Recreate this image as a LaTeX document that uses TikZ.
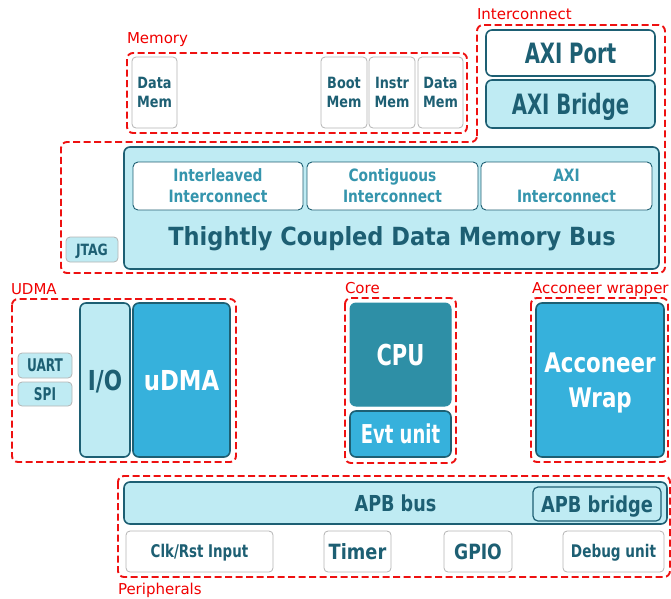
\documentclass[tikz,border=0pt]{standalone}
\usepackage{fontspec}
\usepackage{graphicx}
\setmainfont{DejaVu Sans}
\newfontfamily\cf{DejaVu Sans Condensed Bold}
\definecolor{dteal}{HTML}{1D5F73}
\definecolor{lcyan}{HTML}{BFEBF3}
\definecolor{mblue}{HTML}{36B1DC}
\definecolor{cpuc}{HTML}{2E8FA6}
\definecolor{icol}{HTML}{3595AD}
\definecolor{gborder}{HTML}{B4B4B4}
\definecolor{rline}{HTML}{EE1111}
\definecolor{rtext}{HTML}{F00000}
\newcommand\sx[2]{\scalebox{#1}[1]{#2}}
\newcommand\two[2]{\begin{tabular}[b]{@{}c@{}}#1\\#2\end{tabular}}
\newcommand\bx[7]{\node[#1, minimum width={(#4-#2)*1pt}, minimum height={(#5-#3)*1pt}] (#6) at ({(#2+#4)/2},{(#3+#5)/2}) {#7};}
\tikzset{
  every node/.style={inner sep=0pt, outer sep=0pt},
  f/.style n args={3}{font={\cf\fontsize{#1}{#2}\selectfont}, text height={#3*1pt}, text depth=0pt},
  gbox/.style={draw=gborder, fill=white, rounded corners=4pt, line width=0.8pt, text=dteal},
  gcbox/.style={draw=gborder, fill=lcyan, rounded corners=4pt, line width=0.8pt, text=dteal},
  ibox/.style={draw=dteal, fill=white, rounded corners=5pt, line width=0.9pt, text=icol},
  lbox/.style={draw=dteal, fill=lcyan, rounded corners=6pt, line width=1.6pt, text=dteal},
  wbox/.style={draw=dteal, fill=white, rounded corners=6pt, line width=1.6pt, text=dteal},
  mbox/.style={draw=dteal, fill=mblue, rounded corners=6pt, line width=1.6pt, text=white},
  cbox/.style={draw=cpuc, fill=cpuc, rounded corners=6pt, line width=1pt, text=white},
  reg/.style={draw=rline, line width=1.9pt, dash pattern=on 7pt off 3.5pt, rounded corners=6pt},
  lab/.style={text=rtext, anchor=base west, font=\fontsize{15}{18}\selectfont},
}
\begin{document}
\begin{tikzpicture}[x=1pt,y=-1pt]
\useasboundingbox (0,0) rectangle (671,598);
% group outlines
\draw[reg] (127,53) rectangle (467,133);
\draw[reg] (477,142) -- (477,25) -- (665,25) -- (665,273) -- (61,273) -- (61,142) -- cycle;
\draw[reg] (12,299) rectangle (236,462);
\draw[reg] (345,298) rectangle (456,463);
\draw[reg] (531,298) rectangle (668,462);
\draw[reg] (118,476) rectangle (670,577);
% group labels
\node[lab] (lmem) at (127,43) {Memory};
\node[lab] (lic) at (477,19.5) {Interconnect};
\node[lab] (ludma) at (11,294) {UDMA};
\node[lab] (lcore) at (345,293) {Core};
\node[lab] (lacc) at (532,293) {Acconeer wrapper};
\node[lab] (lper) at (118,594) {Peripherals};
% memory
\bx{gbox, f={15.5}{19}{30.3}}{132}{57}{177}{128}{dmem1}{\sx{0.92}{\two{Data}{Mem}}}
\bx{gbox, f={15.5}{19}{30.3}}{321}{57}{367}{128}{bmem}{\sx{0.92}{\two{Boot}{Mem}}}
\bx{gbox, f={15.5}{19}{30.3}}{369}{57}{415}{128}{imem}{\sx{0.92}{\two{Instr}{Mem}}}
\bx{gbox, f={15.5}{19}{30.3}}{418}{57}{463}{128}{dmem2}{\sx{0.92}{\two{Data}{Mem}}}
% interconnect
\bx{wbox, f={28}{32}{20.4}}{486}{30}{655}{76}{axiport}{\sx{0.78}{AXI Port}}
\bx{lbox, f={28}{32}{20.4}}{486}{80}{655}{128}{axibridge}{\sx{0.78}{AXI Bridge}}
% TCDM
\bx{lbox}{124}{147}{659}{269}{tcdm}{}
\bx{ibox, f={17}{21}{33.4}}{133}{162}{303}{210}{inter}{\sx{0.9}{\two{Interleaved}{Interconnect}}}
\bx{ibox, f={17}{21}{33.4}}{307}{162}{478}{210}{contig}{\sx{0.9}{\two{Contiguous}{Interconnect}}}
\bx{ibox, f={17}{21}{33.4}}{481}{162}{652}{210}{axiint}{\sx{0.9}{\two{AXI}{Interconnect}}}
\node[f={25}{30}{18.3}, text=dteal] (tcdmtxt) at (392,236) {Thightly Coupled Data Memory Bus};
\bx{gcbox, f={15.5}{19}{11.3}}{66}{237}{118}{262}{jtag}{\sx{0.89}{JTAG}}
% UDMA
\bx{gcbox, f={17.5}{21}{12.8}}{18}{353}{72}{378}{uart}{\sx{0.77}{UART}}
\bx{gcbox, f={17.5}{21}{12.8}}{18}{382}{72}{406}{spi}{\sx{0.77}{SPI}}
\bx{lbox, f={27.5}{32}{20}}{80}{303}{130}{457}{io}{\sx{0.87}{I/O}}
\bx{mbox, f={27.5}{32}{20}}{133}{303}{230}{457}{udma}{\sx{0.92}{uDMA}}
% Core
\bx{cbox, f={28.8}{32}{21}}{350}{303}{451}{406}{cpu}{\sx{0.81}{CPU}}
\bx{mbox, f={26}{30}{19}}{350}{411}{451}{457}{evt}{\sx{0.77}{Evt unit}}
% Acconeer
\bx{mbox, f={27}{35}{54.7}}{536}{303}{664}{457}{acc}{\sx{0.88}{\two{Acconeer}{Wrap}}}
% Peripherals
\bx{lbox, f={22}{26}{16}}{124}{482}{667}{524}{apb}{\sx{0.89}{APB bus}}
\bx{lbox, line width=1.2pt, rounded corners=5pt, f={22}{26}{16}}{533}{487}{661}{521}{apbb}{\sx{0.9}{APB bridge}}
\bx{gbox, f={17.5}{21}{12.8}}{126}{531}{273}{572}{clk}{\sx{0.85}{Clk/Rst Input}}
\bx{gbox, f={21}{25}{15.3}}{324}{531}{391}{572}{timer}{\sx{0.94}{Timer}}
\bx{gbox, f={21}{25}{15.3}}{444}{531}{512}{572}{gpio}{\sx{0.91}{GPIO}}
\bx{gbox, f={17.4}{21}{12.7}}{563}{531}{664}{572}{debug}{\sx{0.87}{Debug unit}}
\end{tikzpicture}
\end{document}
